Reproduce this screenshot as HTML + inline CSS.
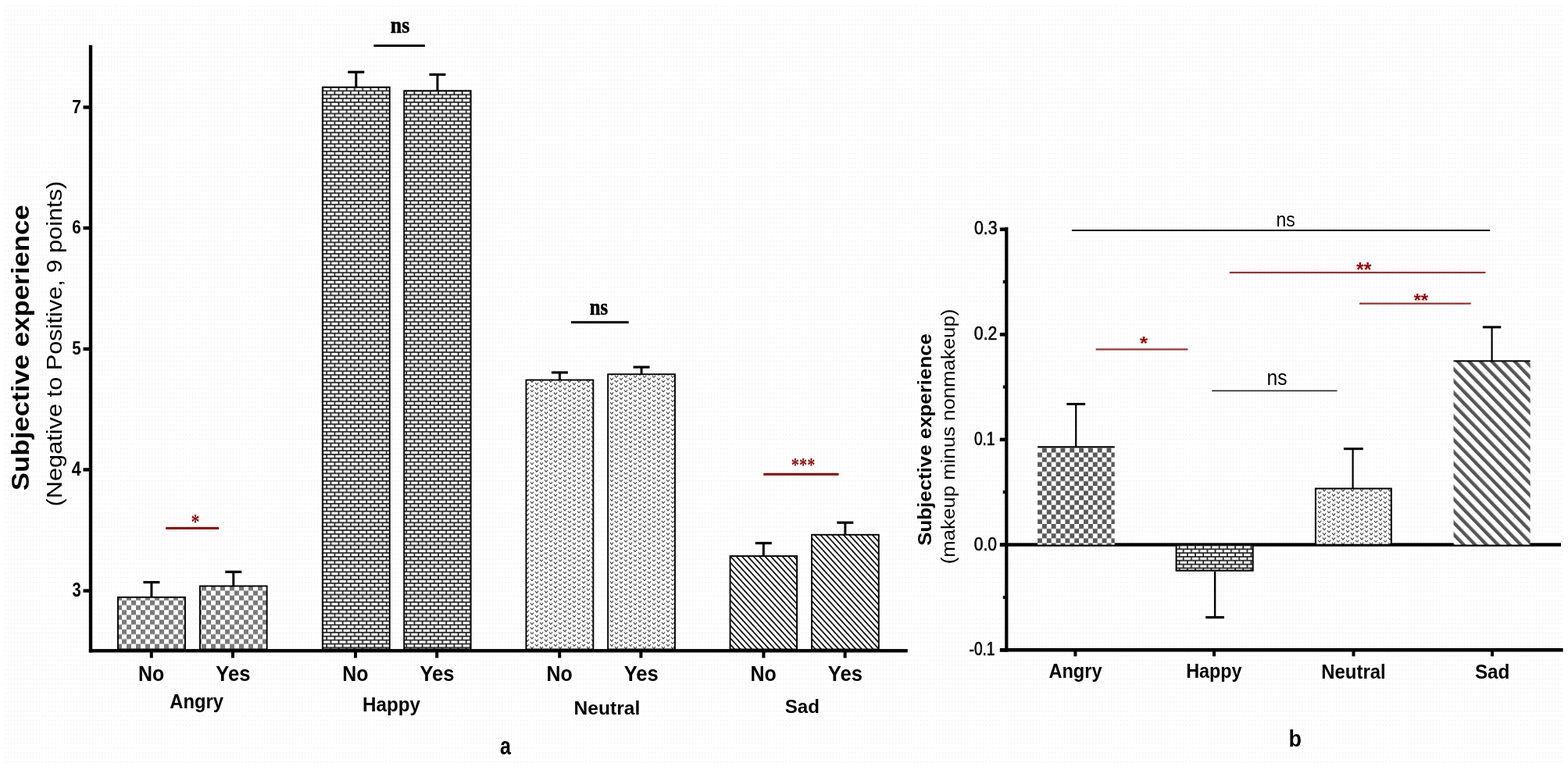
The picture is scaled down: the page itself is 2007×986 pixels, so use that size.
<!DOCTYPE html>
<html><head><meta charset="utf-8"><title>Subjective experience</title>
<style>html,body{margin:0;padding:0;background:#fff;}svg{display:block;}</style>
</head><body>
<svg width="2007" height="986" viewBox="0 0 2007 986">
<defs>
<pattern id="bgdots" patternUnits="userSpaceOnUse" width="4" height="5.9" x="1" y="0.5">
  <rect x="1" y="1" width="1.2" height="1.2" fill="#ebebeb"/>
</pattern>
<pattern id="chkA" patternUnits="userSpaceOnUse" width="12" height="12.4" x="150" y="0">
  <rect width="12" height="12.4" fill="#fff"/>
  <rect x="6" y="0" width="6" height="6.2" fill="#7a7a7a"/>
  <rect x="0" y="6.2" width="6" height="6.2" fill="#7a7a7a"/>
</pattern>
<pattern id="chkB" patternUnits="userSpaceOnUse" width="11.8" height="12.2" x="1328" y="0">
  <rect width="11.8" height="12.2" fill="#fff"/>
  <rect x="5.9" y="0" width="5.9" height="6.1" fill="#595959"/>
  <rect x="0" y="6.1" width="5.9" height="6.1" fill="#595959"/>
</pattern>
<pattern id="brick" patternUnits="userSpaceOnUse" width="10.2" height="9.7">
  <rect width="10.2" height="9.7" fill="#1a1a1a"/>
  <rect x="0.9" y="0.8" width="8.5" height="3.2" fill="#fff"/>
  <rect x="-4.2" y="5.65" width="8.5" height="3.2" fill="#fff"/>
  <rect x="6.0" y="5.65" width="8.5" height="3.2" fill="#fff"/>
</pattern>
<pattern id="vpat" patternUnits="userSpaceOnUse" width="12" height="6.2">
  <rect width="12" height="6.2" fill="#fff"/>
  <polyline points="0.9,0.3 3,2.9 5.1,0.3" fill="none" stroke="#262626" stroke-width="1.0"/>
  <polyline points="6.9,3.4 9,6.0 11.1,3.4" fill="none" stroke="#262626" stroke-width="1.0"/>
</pattern>
<pattern id="diagA" patternUnits="userSpaceOnUse" width="5.45" height="20" patternTransform="rotate(-42.5)">
  <rect width="5.45" height="20" fill="#fff"/>
  <rect x="0" y="0" width="1.65" height="20" fill="#000"/>
</pattern>
<pattern id="diagB" patternUnits="userSpaceOnUse" width="10.5" height="20" patternTransform="rotate(-44)">
  <rect width="10.5" height="20" fill="#fff"/>
  <rect x="0" y="0" width="4.3" height="20" fill="#555"/>
</pattern>
</defs>
<rect width="2007" height="986" fill="#fff"/>
<rect x="6" y="4" width="1994" height="976" fill="url(#bgdots)"/>
<rect x="113.80" y="57.70" width="4.40" height="777.80" fill="#000"/>
<rect x="113.80" y="831.10" width="1047.90" height="4.40" fill="#000"/>
<rect x="106.50" y="135.20" width="9.50" height="4.40" fill="#000"/>
<rect x="106.50" y="289.80" width="9.50" height="4.40" fill="#000"/>
<rect x="106.50" y="444.70" width="9.50" height="4.40" fill="#000"/>
<rect x="106.50" y="599.20" width="9.50" height="4.40" fill="#000"/>
<rect x="106.50" y="754.30" width="9.50" height="4.40" fill="#000"/>
<rect x="191.80" y="833.00" width="4.00" height="9.50" fill="#000"/>
<rect x="296.00" y="833.00" width="4.00" height="9.50" fill="#000"/>
<rect x="453.00" y="833.00" width="4.00" height="9.50" fill="#000"/>
<rect x="557.20" y="833.00" width="4.00" height="9.50" fill="#000"/>
<rect x="714.20" y="833.00" width="4.00" height="9.50" fill="#000"/>
<rect x="818.40" y="833.00" width="4.00" height="9.50" fill="#000"/>
<rect x="975.40" y="833.00" width="4.00" height="9.50" fill="#000"/>
<rect x="1079.60" y="833.00" width="4.00" height="9.50" fill="#000"/>
<rect x="192.45" y="745.60" width="3.00" height="19.20" fill="#000"/>
<rect x="183.45" y="744.00" width="21.00" height="3.20" fill="#000"/>
<rect x="150.95" y="764.75" width="86.00" height="66.75" fill="url(#chkA)" stroke="#000" stroke-width="1.9"/>
<rect x="297.30" y="732.30" width="3.00" height="18.20" fill="#000"/>
<rect x="288.30" y="730.70" width="21.00" height="3.20" fill="#000"/>
<rect x="255.95" y="750.45" width="85.70" height="81.05" fill="url(#chkA)" stroke="#000" stroke-width="1.9"/>
<rect x="454.30" y="92.30" width="3.00" height="19.40" fill="#000"/>
<rect x="445.30" y="90.70" width="21.00" height="3.20" fill="#000"/>
<rect x="412.85" y="111.65" width="85.90" height="719.85" fill="url(#brick)" stroke="#000" stroke-width="1.9"/>
<rect x="558.45" y="95.50" width="3.00" height="20.80" fill="#000"/>
<rect x="549.45" y="93.90" width="21.00" height="3.20" fill="#000"/>
<rect x="517.25" y="116.25" width="85.40" height="715.25" fill="url(#brick)" stroke="#000" stroke-width="1.9"/>
<rect x="714.90" y="477.00" width="3.00" height="9.60" fill="#000"/>
<rect x="705.90" y="475.40" width="21.00" height="3.20" fill="#000"/>
<rect x="673.45" y="486.55" width="85.90" height="344.95" fill="url(#vpat)" stroke="#000" stroke-width="1.9"/>
<rect x="819.55" y="470.10" width="3.00" height="9.20" fill="#000"/>
<rect x="810.55" y="468.50" width="21.00" height="3.20" fill="#000"/>
<rect x="778.15" y="479.25" width="85.80" height="352.25" fill="url(#vpat)" stroke="#000" stroke-width="1.9"/>
<rect x="975.80" y="695.50" width="3.00" height="16.60" fill="#000"/>
<rect x="966.80" y="693.90" width="21.00" height="3.20" fill="#000"/>
<rect x="934.55" y="712.05" width="85.50" height="119.45" fill="url(#diagA)" stroke="#000" stroke-width="1.9"/>
<rect x="1080.35" y="669.20" width="3.00" height="15.60" fill="#000"/>
<rect x="1071.35" y="667.60" width="21.00" height="3.20" fill="#000"/>
<rect x="1038.95" y="684.75" width="85.80" height="146.75" fill="url(#diagA)" stroke="#000" stroke-width="1.9"/>
<rect x="478.40" y="57.00" width="65.50" height="3.00" fill="#000"/>
<rect x="731.00" y="411.20" width="73.70" height="3.00" fill="#000"/>
<rect x="212.20" y="674.90" width="68.00" height="3.00" fill="#8b0000"/>
<rect x="977.30" y="605.80" width="96.20" height="3.00" fill="#8b0000"/>
<rect x="1286.20" y="291.00" width="4.20" height="543.60" fill="#000"/>
<rect x="1280.00" y="830.00" width="720.60" height="4.60" fill="#000"/>
<rect x="1280.00" y="695.30" width="718.00" height="4.40" fill="#000"/>
<rect x="1279.80" y="291.40" width="8.50" height="4.60" fill="#000"/>
<rect x="1279.80" y="426.00" width="8.50" height="4.60" fill="#000"/>
<rect x="1279.80" y="560.60" width="8.50" height="4.60" fill="#000"/>
<rect x="1279.80" y="695.20" width="8.50" height="4.60" fill="#000"/>
<rect x="1279.80" y="830.00" width="8.50" height="4.60" fill="#000"/>
<rect x="1283.80" y="358.80" width="4.50" height="4.00" fill="#000"/>
<rect x="1283.80" y="493.50" width="4.50" height="4.00" fill="#000"/>
<rect x="1283.80" y="628.10" width="4.50" height="4.00" fill="#000"/>
<rect x="1283.80" y="762.90" width="4.50" height="4.00" fill="#000"/>
<rect x="1374.40" y="832.00" width="4.00" height="8.40" fill="#000"/>
<rect x="1552.00" y="832.00" width="4.00" height="8.40" fill="#000"/>
<rect x="1730.50" y="832.00" width="4.00" height="8.40" fill="#000"/>
<rect x="1908.00" y="832.00" width="4.00" height="8.40" fill="#000"/>
<rect x="1328.10" y="572.30" width="98.60" height="125.20" fill="url(#chkB)"/>
<rect x="1328.10" y="571.30" width="98.60" height="2.00" fill="#000"/>
<rect x="1376.10" y="517.40" width="2.20" height="54.90" fill="#000"/>
<rect x="1365.30" y="515.90" width="23.80" height="3.00" fill="#000"/>
<rect x="1505.6" y="697.5" width="98.1" height="33.2" fill="url(#brick)" stroke="#000" stroke-width="2"/>
<rect x="1553.90" y="731.70" width="2.40" height="58.80" fill="#000"/>
<rect x="1543.20" y="788.90" width="23.70" height="3.20" fill="#000"/>
<rect x="1683.9" y="625.6" width="96.9" height="72" fill="url(#vpat)" stroke="#000" stroke-width="2"/>
<rect x="1730.50" y="574.70" width="2.20" height="50.30" fill="#000"/>
<rect x="1719.90" y="573.20" width="24.90" height="3.00" fill="#000"/>
<rect x="1860.50" y="462.30" width="98.20" height="235.20" fill="url(#diagB)"/>
<rect x="1860.50" y="461.30" width="98.20" height="2.00" fill="#000"/>
<rect x="1908.50" y="418.90" width="2.20" height="43.40" fill="#000"/>
<rect x="1897.80" y="417.40" width="23.50" height="3.00" fill="#000"/>
<rect x="1371.90" y="294.00" width="535.30" height="2.00" fill="#000"/>
<rect x="1573.80" y="347.90" width="327.70" height="2.20" fill="#973232"/>
<rect x="1740.00" y="387.60" width="142.80" height="2.20" fill="#973232"/>
<rect x="1402.60" y="446.30" width="117.80" height="2.20" fill="#973232"/>
<rect x="1551.20" y="499.60" width="160.30" height="1.60" fill="#222"/>
<text transform="matrix(1 0 0 1.15 92.14 145.4)" font-family="'Liberation Sans', sans-serif" font-size="21.06" font-weight="bold" fill="#000">7</text>
<text transform="matrix(1 0 0 1.18 92.36 299.22)" font-family="'Liberation Sans', sans-serif" font-size="20.6" font-weight="bold" fill="#000">6</text>
<text transform="matrix(1 0 0 1.18 92.18 453.52)" font-family="'Liberation Sans', sans-serif" font-size="20.56" font-weight="bold" fill="#000">5</text>
<text transform="matrix(1 0 0 1.16 91.7 608.6)" font-family="'Liberation Sans', sans-serif" font-size="21.51" font-weight="bold" fill="#000">4</text>
<text transform="matrix(1 0 0 1.28 92.58 763.9)" font-family="'Liberation Sans', sans-serif" font-size="20.17" font-weight="bold" fill="#000">3</text>
<text transform="matrix(0 -1 0.91 0 37.49 628.14)" font-family="'Liberation Sans', sans-serif" font-size="34.84" font-weight="bold" fill="#000">Subjective experience</text>
<text transform="matrix(0 -1 0.91 0 79.05 648.44)" font-family="'Liberation Sans', sans-serif" font-size="30.75" fill="#000">(Negative to Positive, 9 points)</text>
<text transform="matrix(1 0 0 1.12 176.99 871.66)" font-family="'Liberation Sans', sans-serif" font-size="24.96" font-weight="bold" fill="#000">No</text>
<text transform="matrix(1 0 0 1.1 276.25 871.66)" font-family="'Liberation Sans', sans-serif" font-size="25.6" font-weight="bold" fill="#000">Yes</text>
<text transform="matrix(1 0 0 1.12 438.19 871.66)" font-family="'Liberation Sans', sans-serif" font-size="24.96" font-weight="bold" fill="#000">No</text>
<text transform="matrix(1 0 0 1.1 537.45 871.66)" font-family="'Liberation Sans', sans-serif" font-size="25.6" font-weight="bold" fill="#000">Yes</text>
<text transform="matrix(1 0 0 1.12 699.39 871.66)" font-family="'Liberation Sans', sans-serif" font-size="24.96" font-weight="bold" fill="#000">No</text>
<text transform="matrix(1 0 0 1.1 798.65 871.66)" font-family="'Liberation Sans', sans-serif" font-size="25.6" font-weight="bold" fill="#000">Yes</text>
<text transform="matrix(1 0 0 1.12 960.59 871.66)" font-family="'Liberation Sans', sans-serif" font-size="24.96" font-weight="bold" fill="#000">No</text>
<text transform="matrix(1 0 0 1.1 1059.85 871.66)" font-family="'Liberation Sans', sans-serif" font-size="25.6" font-weight="bold" fill="#000">Yes</text>
<text transform="matrix(1 0 0 1.1 217.23 907.46)" font-family="'Liberation Sans', sans-serif" font-size="23.79" font-weight="bold" fill="#000">Angry</text>
<text transform="matrix(1 0 0 1.1 463.99 910.96)" font-family="'Liberation Sans', sans-serif" font-size="24.2" font-weight="bold" fill="#000">Happy</text>
<text transform="matrix(1 0 0 1 734.56 914.61)" font-family="'Liberation Sans', sans-serif" font-size="24.58" font-weight="bold" fill="#000">Neutral</text>
<text transform="matrix(1 0 0 1.03 1004.82 913.31)" font-family="'Liberation Sans', sans-serif" font-size="24.05" font-weight="bold" fill="#000">Sad</text>
<text transform="matrix(1 0 0 1.24 639.91 966.01)" font-family="'Liberation Sans', sans-serif" font-size="25.05" font-weight="bold" fill="#000">a</text>
<text transform="matrix(1 0 0 1.1 499.75 41.9)" font-family="'Liberation Serif', serif" font-size="25.89" font-weight="bold" fill="#000" stroke="#000" stroke-width="0.5" stroke-linejoin="round">ns</text>
<text transform="matrix(1 0 0 1.22 754.86 403.08)" font-family="'Liberation Serif', serif" font-size="24.69" font-weight="bold" fill="#000" stroke="#000" stroke-width="0.5" stroke-linejoin="round">ns</text>
<text transform="matrix(1 0 0 1.2 244.61 676.89)" font-family="'Liberation Serif', serif" font-size="22.17" font-weight="bold" fill="#8b0000">*</text>
<text transform="matrix(1 0 0 1.27 1012.76 604.07)" font-family="'Liberation Serif', serif" font-size="20.38" font-weight="bold" fill="#8b0000">***</text>
<text transform="matrix(1 0 0 1.1 1246.91 300.36)" font-family="'Liberation Sans', sans-serif" font-size="21.28" fill="#000" stroke="#000" stroke-width="0.55" stroke-linejoin="round">0.3</text>
<text transform="matrix(1 0 0 1.13 1246.81 434.75)" font-family="'Liberation Sans', sans-serif" font-size="21.28" fill="#000" stroke="#000" stroke-width="0.55" stroke-linejoin="round">0.2</text>
<text transform="matrix(1 0 0 1.25 1246.88 569.75)" font-family="'Liberation Sans', sans-serif" font-size="19.15" fill="#000" stroke="#000" stroke-width="0.55" stroke-linejoin="round">0.1</text>
<text transform="matrix(1 0 0 1.12 1246.82 705.06)" font-family="'Liberation Sans', sans-serif" font-size="21.03" fill="#000" stroke="#000" stroke-width="0.55" stroke-linejoin="round">0.0</text>
<text transform="matrix(1 0 0 1.26 1240.58 839.35)" font-family="'Liberation Sans', sans-serif" font-size="19.11" fill="#000" stroke="#000" stroke-width="0.55" stroke-linejoin="round">-0.1</text>
<text transform="matrix(0 -1 0.9 0 1192.18 698.8)" font-family="'Liberation Sans', sans-serif" font-size="25.87" font-weight="bold" fill="#000">Subjective experience</text>
<text transform="matrix(0 -1 0.92 0 1222.21 722.31)" font-family="'Liberation Sans', sans-serif" font-size="25.8" fill="#000">(makeup minus nonmakeup)</text>
<text transform="matrix(1 0 0 1.08 1342.43 868.42)" font-family="'Liberation Sans', sans-serif" font-size="23.58" font-weight="bold" fill="#000">Angry</text>
<text transform="matrix(1 0 0 1.09 1518.24 868.42)" font-family="'Liberation Sans', sans-serif" font-size="23.33" font-weight="bold" fill="#000">Happy</text>
<text transform="matrix(1 0 0 1.05 1691.31 868.91)" font-family="'Liberation Sans', sans-serif" font-size="23.89" font-weight="bold" fill="#000">Neutral</text>
<text transform="matrix(1 0 0 1.09 1887.92 869.19)" font-family="'Liberation Sans', sans-serif" font-size="24.28" font-weight="bold" fill="#000">Sad</text>
<text transform="matrix(1 0 0 1.1 1649.52 956.04)" font-family="'Liberation Sans', sans-serif" font-size="26.96" font-weight="bold" fill="#000">b</text>
<text transform="matrix(1 0 0 1.15 1633.56 290.39)" font-family="'Liberation Sans', sans-serif" font-size="22.96" fill="#000">ns</text>
<text transform="matrix(1 0 0 1.1 1621.46 493.28)" font-family="'Liberation Sans', sans-serif" font-size="24.63" fill="#000">ns</text>
<text transform="matrix(1 0 0 1 1736 353.86)" font-family="'Liberation Sans', sans-serif" font-size="24.88" font-weight="bold" fill="#990000">**</text>
<text transform="matrix(1 0 0 0.96 1809.4 392.7)" font-family="'Liberation Sans', sans-serif" font-size="24.11" font-weight="bold" fill="#990000">**</text>
<text transform="matrix(1 0 0 0.86 1458.7 448.1)" font-family="'Liberation Sans', sans-serif" font-size="26.88" font-weight="bold" fill="#990000">*</text>
</svg>
</body></html>
